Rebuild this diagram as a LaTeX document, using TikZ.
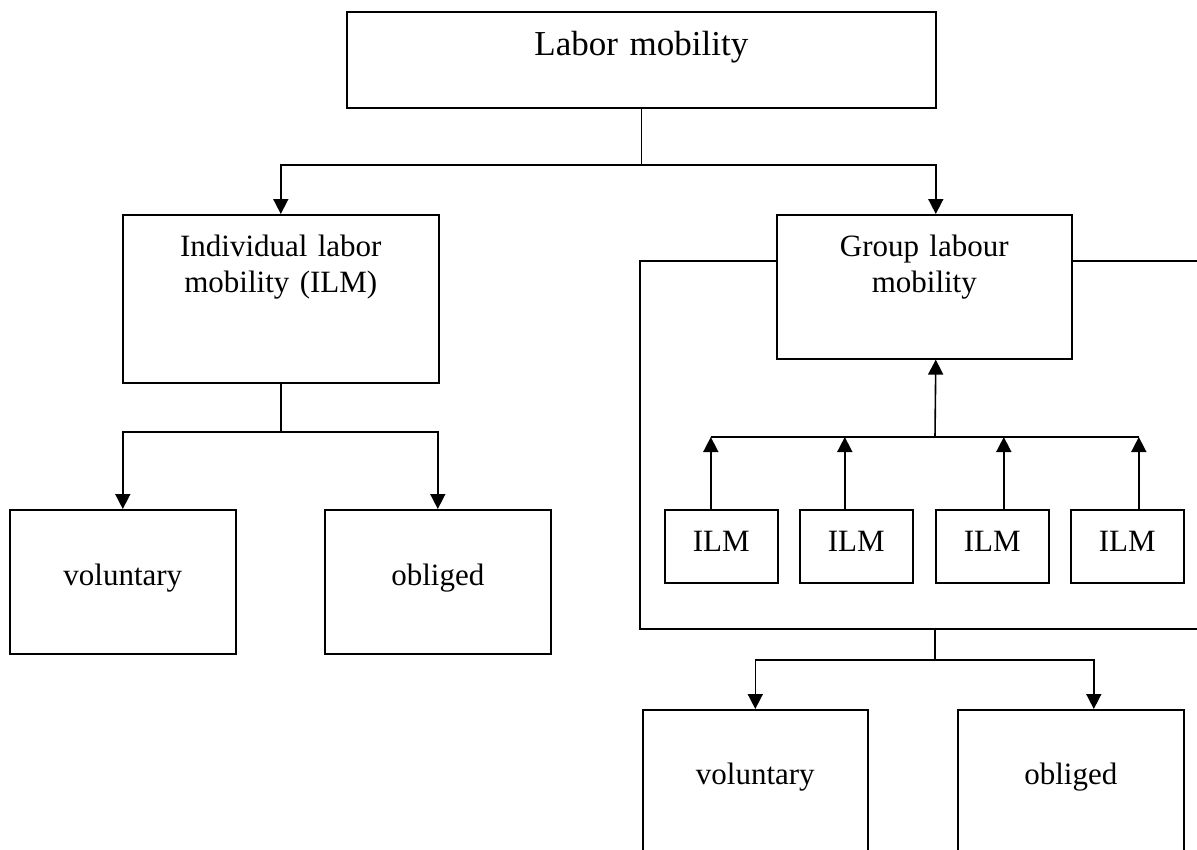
\documentclass[tikz,border=0pt]{standalone}
\usepackage{fontspec}
\setmainfont{Liberation Serif}
\usetikzlibrary{arrows.meta}

\begin{document}
\begin{tikzpicture}[x=1pt,y=-1pt,line width=1.6pt,
  box/.style={draw,inner sep=0pt,align=center,anchor=north west,font=\fontsize{31}{36}\selectfont},
  arr/.style={-{Triangle[width=15pt,length=15pt]}}]
  \useasboundingbox (0,0) rectangle (1197,849);
  \node[box,text width=589pt,text height=44pt,text depth=52pt,font=\fontsize{35}{40}\selectfont] (lm) at (346,11) {Labor mobility};
  \node[box,text width=316pt,text height=42pt,text depth=126pt] (ind) at (122,214) {Individual labor\\mobility (ILM)};
  \node[box,text width=295pt,text height=42pt,text depth=102pt] (grp) at (776,214) {Group labour\\mobility};
  \node[box,text width=226pt,text height=76pt,text depth=68pt] (vol1) at (9,509) {voluntary};
  \node[box,text width=226pt,text height=76pt,text depth=68pt] (obl1) at (324,509) {obliged};
  \node[box,text width=225pt,text height=75pt,text depth=170pt] (vol2) at (642,709) {voluntary};
  \node[box,text width=226pt,text height=75pt,text depth=170pt] (obl2) at (957,709) {obliged};
  \foreach \i/\x in {1/664,2/799,3/935,4/1070}
    \node[box,text width=113pt,text height=42pt,text depth=31pt] (ilm\i) at (\x,509) {ILM};

  % labor mobility -> individual / group
  \coordinate (top) at (lm.south |- 0,165);
  \draw (lm.south) -- (top);
  \draw[arr] (top) -| (ind.north);
  \draw[arr] (top) -| ([xshift=11.5pt]grp.north);

  % individual -> voluntary / obliged
  \coordinate (indj) at (ind.south |- 0,432);
  \draw (ind.south) -- (indj);
  \draw[arr] (indj) -| (vol1.north);
  \draw[arr] (indj) -| (obl1.north);

  % frame round the group part
  \coordinate (ftl) at (640,261);
  \coordinate (fbl) at (640,629);
  \coordinate (ftr) at (1205,261);
  \coordinate (fbr) at (1205,629);
  \draw (grp.west |- ftl) -- (ftl) -- (fbl) -- (fbr);
  \draw (grp.east |- ftr) -- (ftr);

  % ILM -> group
  \coordinate (bar) at (935,437);
  \draw[arr] (bar) -- ([xshift=11.5pt]grp.south);
  \draw ([xshift=-10.5pt]ilm1.north |- bar) -- ([xshift=11.5pt]ilm4.north |- bar);
  \foreach \i/\s in {1/-10.5,2/-11.5,3/11.5,4/11.5}
    \draw[arr] ([xshift=\s pt]ilm\i.north) -- ([xshift=\s pt]ilm\i.north |- bar);

  % group -> voluntary / obliged
  \coordinate (gj) at (935,660);
  \draw (fbl -| bar) -- (gj);
  \draw[arr] (gj) -| (vol2.north);
  \draw[arr] (gj) -| ([xshift=23pt]obl2.north);
\end{tikzpicture}
\end{document}
